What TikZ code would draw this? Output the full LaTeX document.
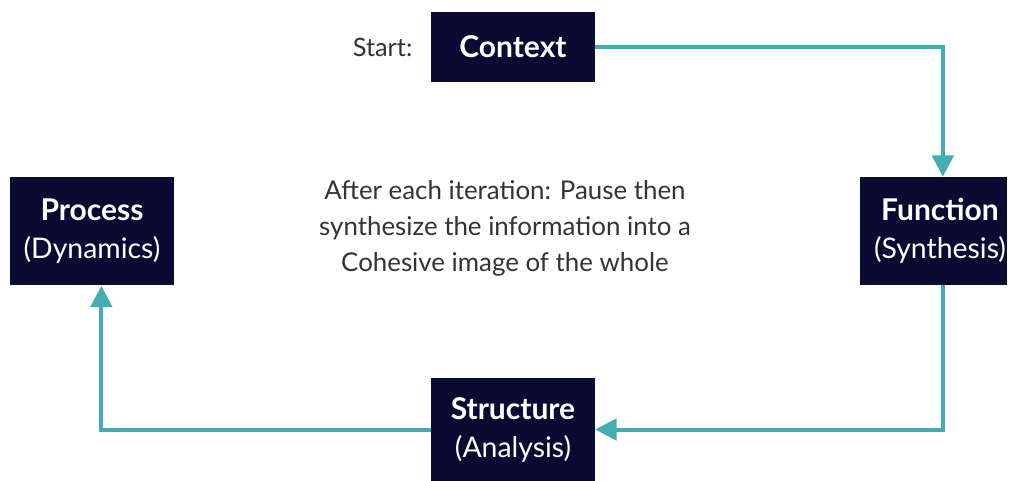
\documentclass[tikz,border=0pt]{standalone}
\usepackage{fontspec}
\setmainfont{Lato}
\usetikzlibrary{positioning,arrows.meta}

\definecolor{navy}{HTML}{0A0B33}
\definecolor{teal}{HTML}{45ADB1}
\definecolor{ink}{HTML}{333333}

\newcommand{\boxtitle}[1]{{\fontsize{22.5}{28.5}\selectfont\bfseries #1}}

\tikzset{
  stage/.style={fill=navy, text=white, align=center, inner sep=0pt,
    font=\fontsize{21.3}{28.5}\selectfont},
  flow/.style={draw=teal, line width=3pt, -{Triangle[length=16pt,width=16pt]}},
  note/.style={text=ink, font=\fontsize{19.4}{27}\selectfont}
}

\begin{document}
\begin{tikzpicture}[x=0.75pt,y=0.75pt]

	\useasboundingbox (0,0) rectangle (1011,-481);

	% boxes
	\node[stage, minimum width=123pt, minimum height=52.5pt] (ctx) at (513,-47) {\boxtitle{Context}};
	\node[stage, minimum width=110pt, minimum height=81pt] (fun) at (933.5,-231) {};
	\node[text=white, align=center, inner sep=0pt, font=\fontsize{21.3}{28.5}\selectfont] (funtext) at (940,-231) {\boxtitle{Function}\\(Synthesis)};
	\node[stage, minimum width=123pt, minimum height=77pt] (str) at (513,-429.5) {\boxtitle{Structure}\\(Analysis)};
	\node[stage, minimum width=123pt, minimum height=81pt] (proc) at (92,-231.5) {\boxtitle{Process}\\(Dynamics)};

	% texts
	\node[note, anchor=east, font=\fontsize{19}{27}\selectfont] (start) at (417,-47) {Start:};
	\node[note, align=center] (msg) at (505,-228) {After each iteration: Pause then\\synthesize the information into a\\Cohesive image of the whole};

	% loop
	\draw[flow] (ctx.east) -| ([xshift=7pt]fun.north);
	\draw[flow] ([xshift=7pt]fun.south) |- (str.east);
	\draw[flow] (str.west) -| ([xshift=7pt]proc.south);

\end{tikzpicture}
\end{document}
